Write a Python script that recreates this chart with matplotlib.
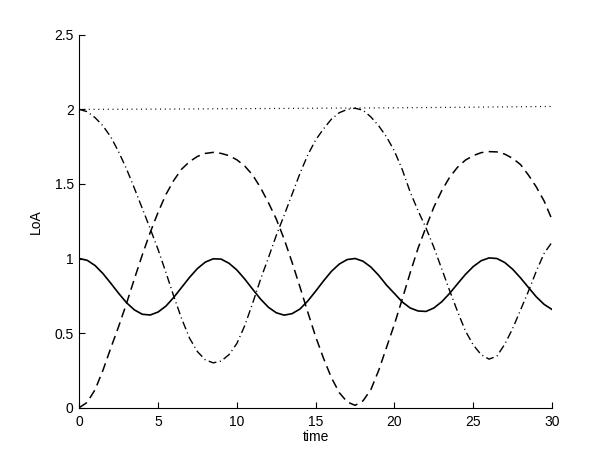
import numpy as np
import matplotlib
matplotlib.use("Agg")
import matplotlib.pyplot as plt

time = [i * 0.5 for i in range(61)]

solid = [1.000, 0.988, 0.953, 0.899, 0.834, 0.766, 0.703, 0.655, 0.626, 0.621,
         0.641, 0.681, 0.740, 0.807, 0.874, 0.933, 0.976, 0.998, 0.996, 0.968,
         0.923, 0.862, 0.794, 0.728, 0.673, 0.636, 0.620, 0.630, 0.661, 0.715,
         0.781, 0.850, 0.914, 0.963, 0.993, 1.000, 0.982, 0.943, 0.887, 0.821,
         0.765, 0.708, 0.668, 0.648, 0.645, 0.668, 0.710, 0.766, 0.830, 0.893,
         0.946, 0.985, 1.004, 1.000, 0.973, 0.928, 0.870, 0.806, 0.743, 0.692,
         0.658]

dashed = [0.000, 0.035, 0.120, 0.250, 0.400, 0.545, 0.700, 0.865, 1.025, 1.175,
          1.310, 1.430, 1.525, 1.600, 1.650, 1.685, 1.705, 1.712, 1.705, 1.690,
          1.662, 1.620, 1.560, 1.475, 1.375, 1.265, 1.130, 0.975, 0.810, 0.640,
          0.475, 0.330, 0.200, 0.100, 0.038, 0.015, 0.045, 0.120, 0.250, 0.405,
          0.560, 0.730, 0.905, 1.070, 1.210, 1.345, 1.455, 1.545, 1.612, 1.660,
          1.690, 1.710, 1.717, 1.715, 1.700, 1.672, 1.630, 1.560, 1.480, 1.385,
          1.260]

dashdot = [2.000, 1.985, 1.945, 1.890, 1.815, 1.715, 1.600, 1.470, 1.335, 1.200,
           1.060, 0.905, 0.745, 0.595, 0.465, 0.375, 0.320, 0.300, 0.312, 0.355,
           0.430, 0.550, 0.700, 0.860, 1.005, 1.155, 1.290, 1.430, 1.570, 1.695,
           1.795, 1.870, 1.935, 1.978, 2.000, 2.008, 1.995, 1.950, 1.890, 1.815,
           1.720, 1.595, 1.445, 1.320, 1.205, 1.075, 0.930, 0.785, 0.645, 0.515,
           0.420, 0.355, 0.325, 0.345, 0.425, 0.530, 0.655, 0.780, 0.915, 1.035,
           1.110]

dotted_time = [0, 5, 10, 15, 20, 25, 30]
dotted = [2.000, 2.002, 2.005, 2.008, 2.011, 2.015, 2.020]

xticks = [0, 5, 10, 15, 20, 25, 30]
yticks = [0, 0.5, 1, 1.5, 2, 2.5]
ytick_labels = ["0", "0.5", "1", "1.5", "2", "2.5"]

plt.rcParams['font.family'] = ['Liberation Sans', 'DejaVu Sans']

fig = plt.figure(figsize=(6.1, 4.59), dpi=100)
ax = fig.add_axes([0.130, 0.112, 0.775, 0.812])

ax.plot(time, solid, color='black', lw=1.2, linestyle='-')
ax.plot(time, dashed, color='black', lw=1.1, dashes=(6.0, 3.5))
ax.plot(time, dashdot, color='black', lw=1.0, dashes=(5.8, 2.5, 0.8, 2.5))
ax.plot(dotted_time, dotted, color='black', lw=0.9, dashes=(0.8, 3.0))

ax.set_xlim(0, 30)
ax.set_ylim(0, 2.5)
ax.set_xticks(xticks)
ax.set_xticklabels([str(v) for v in xticks])
ax.set_yticks(yticks)
ax.set_yticklabels(ytick_labels)
ax.tick_params(direction='in', length=4, width=0.8, labelsize=10)
ax.tick_params(axis='x', pad=5)
ax.tick_params(axis='y', pad=4)
ax.spines['top'].set_visible(False)
ax.spines['right'].set_visible(False)
for s in ['left', 'bottom']:
    ax.spines[s].set_linewidth(0.8)
ax.set_xlabel('time', fontsize=10, labelpad=1)
ax.set_ylabel('LoA', fontsize=10, labelpad=8)

fig.savefig('out.png', dpi=100)
